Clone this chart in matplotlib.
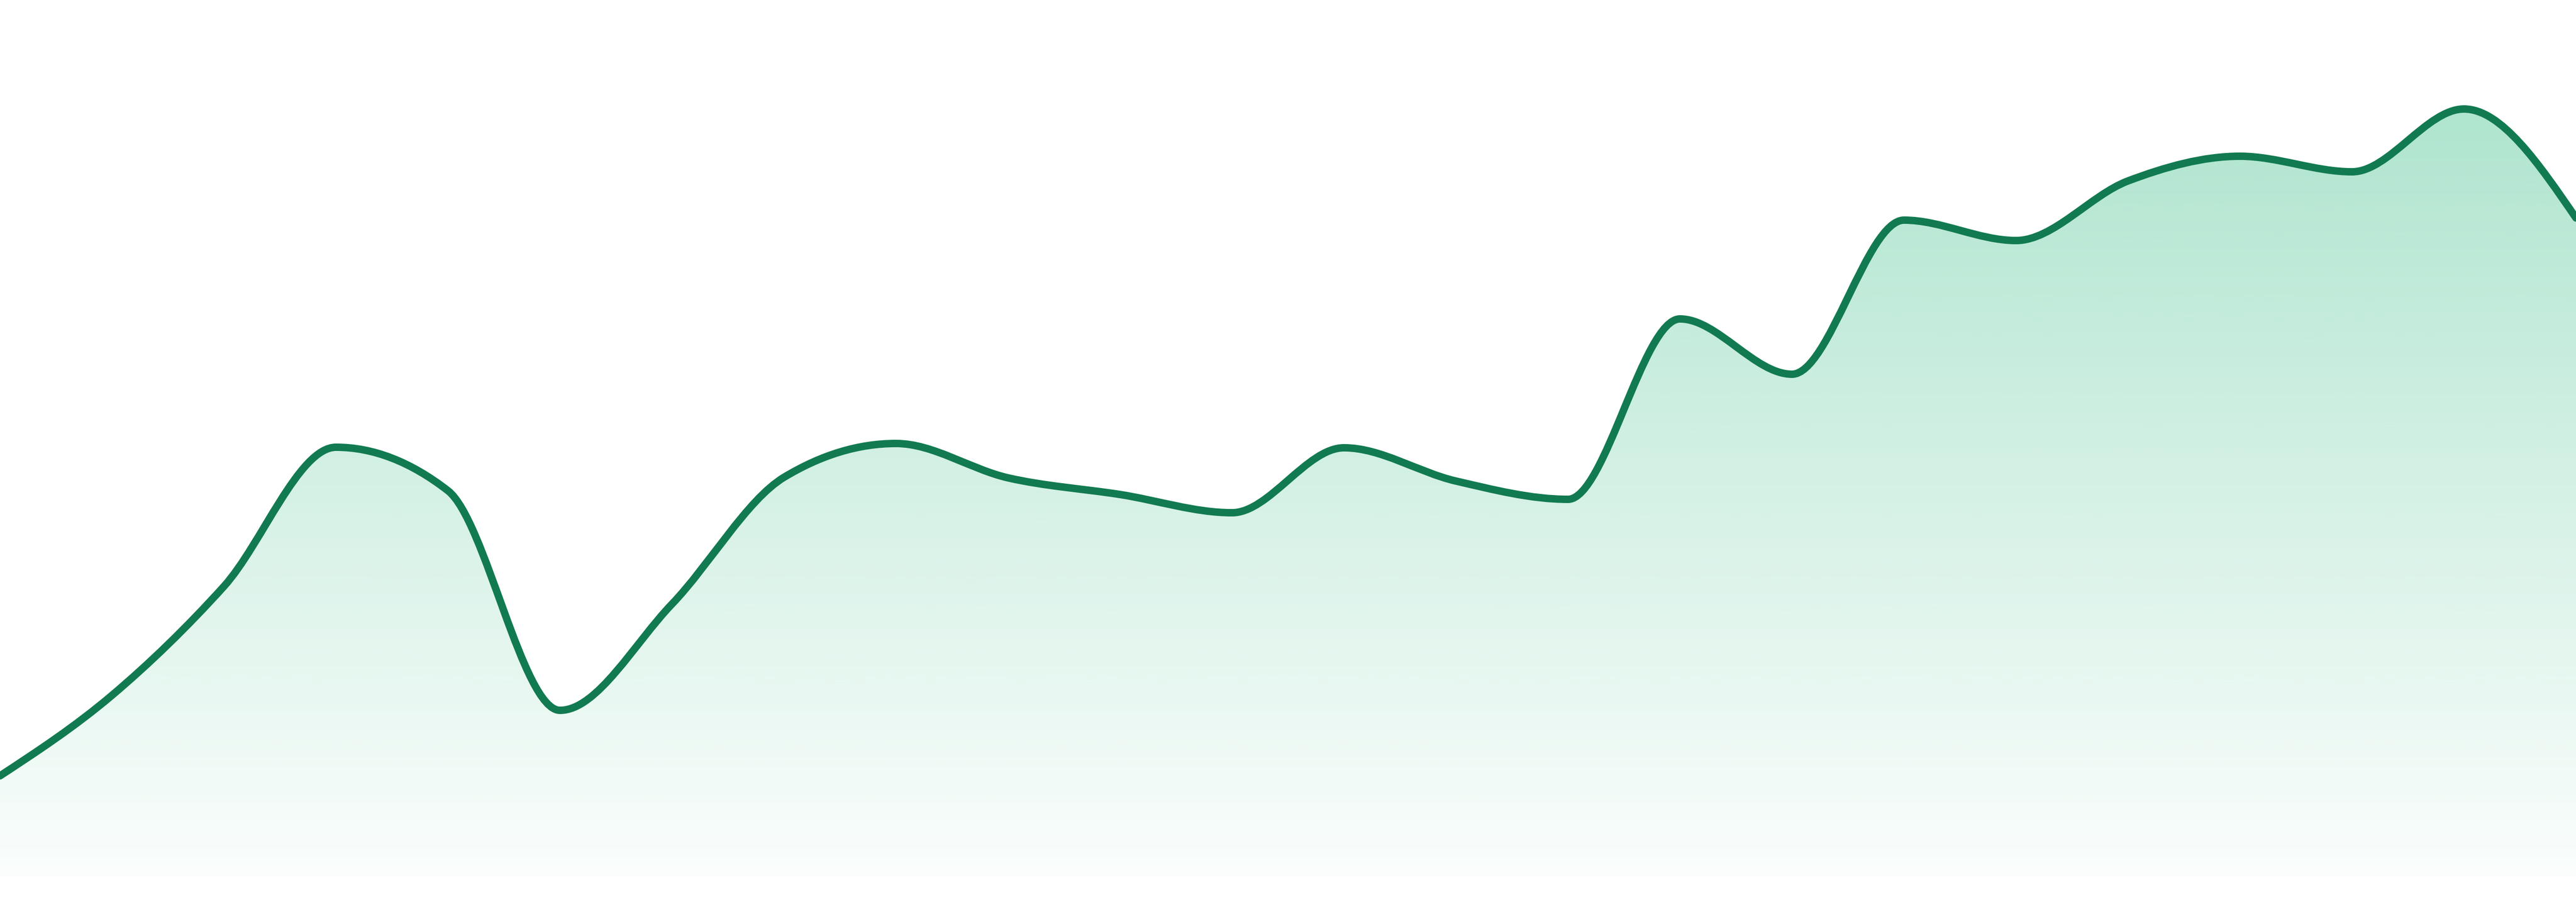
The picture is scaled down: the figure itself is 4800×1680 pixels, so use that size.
import numpy as np
import matplotlib
matplotlib.use("Agg")
import matplotlib.pyplot as plt
from matplotlib.path import Path
from matplotlib.patches import PathPatch
from matplotlib.colors import to_rgb

# values (height above baseline)
values = [187, 337, 540, 799, 718, 309, 507, 743, 806, 742, 711, 677,
          798, 736, 702, 1038, 935, 1222, 1184, 1295, 1341, 1312, 1429, 1226]
index = list(range(len(values)))

line_color = "#127a50"
fill_color = "#1bb476"


def monotone_slopes(x, y):
    # d3 curveMonotoneX tangents
    x = np.asarray(x, float)
    y = np.asarray(y, float)
    n = len(x)
    h = np.diff(x)
    s = np.diff(y) / h
    t = np.zeros(n)
    for i in range(1, n - 1):
        s0, s1 = s[i - 1], s[i]
        p = (s0 * h[i] + s1 * h[i - 1]) / (h[i - 1] + h[i])
        t[i] = (np.sign(s0) + np.sign(s1)) * min(abs(s0), abs(s1), 0.5 * abs(p))
    t[0] = (3 * s[0] - t[1]) / 2
    t[-1] = (3 * s[-1] - t[-2]) / 2
    return t


def curve_vertices(x, y):
    t = monotone_slopes(x, y)
    verts = [(x[0], y[0])]
    codes = [Path.MOVETO]
    for i in range(len(x) - 1):
        dx = (x[i + 1] - x[i]) / 3
        verts += [(x[i] + dx, y[i] + dx * t[i]),
                  (x[i + 1] - dx, y[i + 1] - dx * t[i + 1]),
                  (x[i + 1], y[i + 1])]
        codes += [Path.CURVE4] * 3
    return verts, codes


fig = plt.figure(figsize=(48, 16.8), dpi=100)
ax = fig.add_axes([0, 0, 1, 1])
ax.set_xlim(0, len(values) - 1)
ax.set_ylim(-48, 1632)
ax.axis("off")

verts, codes = curve_vertices(index, values)

# gradient fill under the curve
fill_verts = verts + [(index[-1], 0), (index[0], 0), (index[0], values[0])]
fill_codes = codes + [Path.LINETO, Path.LINETO, Path.CLOSEPOLY]
clip = PathPatch(Path(fill_verts, fill_codes), facecolor="none", edgecolor="none",
                 transform=ax.transData)
ax.add_patch(clip)

r, g, b = to_rgb(fill_color)
alpha = np.linspace(0.02, 0.35, 256).reshape(-1, 1)
grad = np.zeros((256, 1, 4))
grad[..., 0], grad[..., 1], grad[..., 2] = r, g, b
grad[..., 3] = alpha
img = ax.imshow(grad, extent=[index[0], index[-1], 0, max(values)], origin="lower",
                aspect="auto", interpolation="bicubic", zorder=1)
img.set_clip_path(clip)

line = PathPatch(Path(verts, codes), facecolor="none", edgecolor=line_color,
                 linewidth=10, capstyle="round", joinstyle="round", zorder=2)
ax.add_patch(line)

fig.savefig("out.png", dpi=100, facecolor="white")
